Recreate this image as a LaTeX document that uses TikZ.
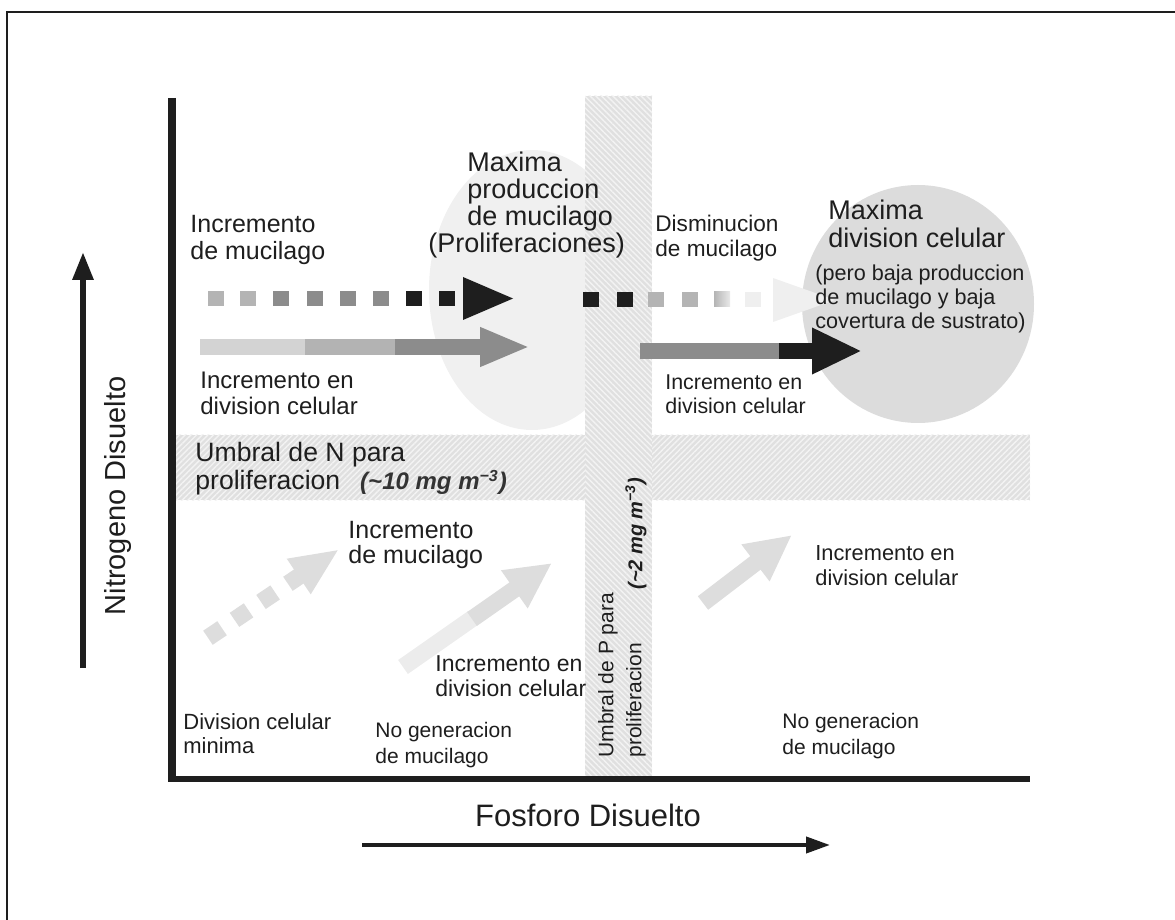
\documentclass[tikz,border=0pt]{standalone}
\usepackage{fontspec}
\setmainfont{Liberation Sans}
\usetikzlibrary{arrows.meta, patterns.meta}

\definecolor{inkgray}{HTML}{1E1E1E}
\definecolor{conctxt}{HTML}{333333}
\definecolor{bandgray}{HTML}{E0E0E0}
\definecolor{ellone}{HTML}{F0F0F0}
\definecolor{elltwo}{HTML}{DCDCDC}
\definecolor{sqlight}{HTML}{B4B4B4}
\definecolor{sqmid}{HTML}{8C8C8C}
\definecolor{sqpale}{HTML}{EFEFEF}
\definecolor{barone}{HTML}{D3D3D3}
\definecolor{bartwo}{HTML}{B3B3B3}
\definecolor{barthree}{HTML}{8C8C8C}
\definecolor{lowone}{HTML}{ECECEC}
\definecolor{lowtwo}{HTML}{DDDDDD}

\newcommand{\fsz}[2]{\fontsize{#1}{#2}\selectfont}
\newcommand{\conc}{\bfseries\itshape\color{conctxt}}

\begin{document}
\begin{tikzpicture}[
    x=0.5pt, y=-0.5pt,
    lbl/.style={anchor=west, inner sep=0pt, align=left, text=inkgray},
    hband/.style={preaction={fill=bandgray}, pattern={Lines[angle=45,distance=2pt,line width=0.7pt]}, pattern color=white!60!bandgray},
    vband/.style={preaction={fill=bandgray}, pattern={Lines[angle=-45,distance=2pt,line width=0.7pt]}, pattern color=white!60!bandgray},
    fatarrow/.style={line width=8pt, -{Triangle[length=25pt,width=18pt]}},
    lowarrow/.style={line width=8.5pt, -{Triangle[length=23pt,width=21.5pt]}},
    axisarrow/.style={inkgray, line width=3pt, -{Triangle[length=14pt,width=10pt]}}
  ]
    \useasboundingbox (0,0) rectangle (1175,920);

    % regions
    \fill[ellone] (532,290) ellipse [x radius=51.5pt, y radius=70pt];
    \fill[elltwo] (918,304) ellipse [x radius=58pt, y radius=59.5pt];
    \path[hband] (172,435) rectangle (1030,500);
    \path[vband] (585,96) rectangle (652,778);

    % upper arrows
    \foreach \x/\c in {208/sqlight, 240/sqlight, 273/sqmid, 307/sqmid, 340/sqmid, 373/sqmid, 406/inkgray, 439/inkgray}
      {\fill[\c] (\x,291) rectangle ++(16,15);}
    \fill[inkgray] (463,277) -- (513,298.5) -- (463,320) -- cycle;

    \draw[line width=8pt, barone] (200,347) -- (306,347);
    \draw[line width=8pt, bartwo] (305,347) -- (396,347);
    \draw[fatarrow, barthree] (395,347) -- (530,347);

    \foreach \x/\c in {583/inkgray, 617/inkgray, 648/sqlight, 682/sqlight, 745/sqpale}
      {\fill[\c] (\x,292) rectangle ++(16,15);}
    \shade[left color=sqlight, right color=sqpale!90!sqlight] (714,292) rectangle (730,307);
    \fill[sqpale] (773,278) -- (835,300) -- (773,322) -- cycle;

    \draw[line width=8pt, barthree] (640,351) -- (780,351);
    \draw[fatarrow, inkgray, -{Triangle[length=25pt,width=21.5pt]}] (779,351) -- (862,351);

    % lower arrows
    \begin{scope}[shift={(215,633)}, rotate=34]
      \foreach \u in {0,32,64}
        {\fill[lowtwo] (\u-8.5,-8.5) rectangle ++(17,17);}
      \fill[lowtwo] (88,-8.5) rectangle (102,8.5);
      \fill[lowtwo] (101,-21.5) -- (148,0) -- (101,21.5) -- cycle;
    \end{scope}

    \draw[line width=8.5pt, lowone] (403,667) -- (473,618);
    \draw[lowarrow, lowtwo] (472,619) -- (552,563);
    \draw[lowarrow, lowtwo] (703,603) -- (792,535);

    % texts
    \node[lbl, font=\fsz{12.5}{13.5}] (mucA) at (190,239.5) {Incremento\\de mucilago};
    \node[lbl, font=\fsz{12}{13}] (divA) at (200,393) {Incremento en\\division celular};
    \node[lbl, font=\fsz{13.5}{13.5}] (maxP) at (467,192) {Maxima\\produccion\\de mucilago};
    \node[lbl, font=\fsz{13.5}{13.5}] (prolif) at (428,246) {(Proliferaciones)};
    \node[lbl, font=\fsz{11.3}{12.5}] (dism) at (655,238.5) {Disminucion\\de mucilago};
    \node[lbl, font=\fsz{13.5}{14}] (maxD) at (828,224) {Maxima\\division celular};
    \node[lbl, font=\fsz{10.8}{12}] (pero) at (815,298.5) {(pero baja produccion\\de mucilago y baja\\covertura de sustrato)};
    \node[lbl, font=\fsz{10.7}{12}] (divB) at (665,394) {Incremento en\\division celular};
    \node[lbl, font=\fsz{13.3}{14}] (umbN) at (195,469) {Umbral de N para\\proliferacion\hspace{0.75em}{\conc\fsz{12}{14}(\textasciitilde10 mg m\textsuperscript{−3})}};
    \node[lbl, font=\fsz{12.5}{12.5}] (mucC) at (348,545) {Incremento\\de mucilago};
    \node[lbl, font=\fsz{11.5}{12.5}] (divC) at (435,676) {Incremento en\\division celular};
    \node[lbl, font=\fsz{10.9}{12.5}] (divD) at (815,566) {Incremento en\\division celular};
    \node[lbl, font=\fsz{11}{12}] (minima) at (183,734) {Division celular\\minima};
    \node[lbl, font=\fsz{10.5}{13}] (nogenA) at (375,745) {No generacion\\de mucilago};
    \node[lbl, font=\fsz{10.5}{13}] (nogenB) at (782,736) {No generacion\\de mucilago};
    \node[lbl, rotate=90, font=\fsz{10.5}{14}] (umbP) at (622,758) {Umbral de P para\\proliferacion};
    \node[lbl, rotate=90, font=\conc\fsz{10}{12}] (concP) at (636,590) {(\textasciitilde2 mg m\textsuperscript{−3})};

    % axes
    \draw[inkgray, line width=4pt] (172,98) -- (172,782);
    \draw[inkgray, line width=3pt] (170,779) -- (1030,779);
    \draw[axisarrow] (83,668) -- (83,252);
    \draw[axisarrow, line width=2pt, -{Triangle[length=12pt,width=8pt]}] (362,845) -- (830,845);
    \node[rotate=90, inner sep=0pt, text=inkgray, font=\fsz{14.5}{16}] (nlab) at (118,496) {Nitrogeno Disuelto};
    \node[inner sep=0pt, text=inkgray, font=\fsz{15.5}{17}] (plab) at (588,815) {Fosforo Disuelto};

    % frame
    \draw[inkgray, line width=1pt] (7,935) -- (7,12) -- (1190,12);
  \end{tikzpicture}
\end{document}
